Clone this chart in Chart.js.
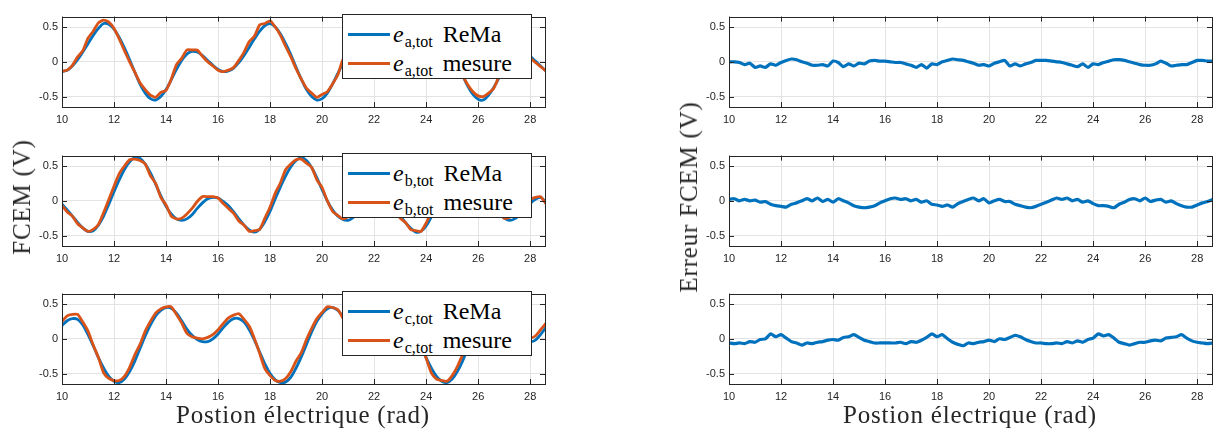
<!DOCTYPE html>
<html lang="fr">
<head>
<meta charset="UTF-8">
<title>FCEM ReMa / mesure</title>
<style>
    body { margin: 0; background: #fff; }
    #page { position: relative; width: 1214px; height: 437px; overflow: hidden; background: #fff; }
    canvas { position: absolute; }
    .lbl { position: absolute; font-family: "Liberation Serif", serif; font-size: 25px; color: #262626;
           white-space: nowrap; letter-spacing: 0.8px; }
    .ylab { transform: translate(-50%, -50%) rotate(-90deg); }
    .xlab { transform: translate(-50%, -50%); }
    .legend { position: absolute; width: 188px; height: 63px; border: 1px solid #262626; background: #fff;
              font-family: "Liberation Serif", serif; color: #000; z-index: 2; }
    .legend .row { position: absolute; left: 0; height: 30px; width: 100%; }
    .legend .sw { position: absolute; left: 5px; top: 14px; width: 42px; height: 3px; }
    .legend .txt { position: absolute; left: 50px; top: 0; font-size: 24px; line-height: 30px; white-space: nowrap; }
    .legend sub { font-size: 16px; font-style: normal; vertical-align: -5px; line-height: 0; margin-right: 10px; margin-left: 1px; }
</style>
</head>
<body>
<div id="page">
    <canvas id="cA" width="525" height="123" style="left:22px;top:6px"></canvas>
    <canvas id="cB" width="525" height="123" style="left:22px;top:145px"></canvas>
    <canvas id="cC" width="525" height="123" style="left:22px;top:283px"></canvas>
    <canvas id="eA" width="525" height="123" style="left:689px;top:6px"></canvas>
    <canvas id="eB" width="525" height="123" style="left:689px;top:145px"></canvas>
    <canvas id="eC" width="525" height="123" style="left:689px;top:283px"></canvas>

    <div class="legend" style="left:342px;top:14px">
        <div class="row" style="top:4px"><span class="sw" style="background:#0072BD"></span><span class="txt"><i>e</i><sub>a,tot</sub>ReMa</span></div>
        <div class="row" style="top:33px"><span class="sw" style="background:#D95319"></span><span class="txt"><i>e</i><sub>a,tot</sub>mesure</span></div>
    </div>
    <div class="legend" style="left:342px;top:153px">
        <div class="row" style="top:4px"><span class="sw" style="background:#0072BD"></span><span class="txt"><i>e</i><sub>b,tot</sub>ReMa</span></div>
        <div class="row" style="top:33px"><span class="sw" style="background:#D95319"></span><span class="txt"><i>e</i><sub>b,tot</sub>mesure</span></div>
    </div>
    <div class="legend" style="left:342px;top:291px">
        <div class="row" style="top:4px"><span class="sw" style="background:#0072BD"></span><span class="txt"><i>e</i><sub>c,tot</sub>ReMa</span></div>
        <div class="row" style="top:33px"><span class="sw" style="background:#D95319"></span><span class="txt"><i>e</i><sub>c,tot</sub>mesure</span></div>
    </div>

    <div class="lbl ylab" style="left:22px;top:197px">FCEM (V)</div>
    <div class="lbl ylab" style="left:689px;top:197px">Erreur FCEM (V)</div>
    <div class="lbl xlab" style="left:303px;top:415px">Postion électrique (rad)</div>
    <div class="lbl xlab" style="left:970px;top:415px">Postion électrique (rad)</div>
</div>

<script src="https://cdn.jsdelivr.net/npm/chart.js"></script>
<script>
// electrical position (rad), 0.2 step
var positions = [
    10.0, 10.2, 10.4, 10.6, 10.8, 11.0, 11.2, 11.4, 11.6, 11.8,
    12.0, 12.2, 12.4, 12.6, 12.8, 13.0, 13.2, 13.4, 13.6, 13.8,
    14.0, 14.2, 14.4, 14.6, 14.8, 15.0, 15.2, 15.4, 15.6, 15.8,
    16.0, 16.2, 16.4, 16.6, 16.8, 17.0, 17.2, 17.4, 17.6, 17.8,
    18.0, 18.2, 18.4, 18.6, 18.8, 19.0, 19.2, 19.4, 19.6, 19.8,
    20.0, 20.2, 20.4, 20.6, 20.8, 21.0, 21.2, 21.4, 21.6, 21.8,
    22.0, 22.2, 22.4, 22.6, 22.8, 23.0, 23.2, 23.4, 23.6, 23.8,
    24.0, 24.2, 24.4, 24.6, 24.8, 25.0, 25.2, 25.4, 25.6, 25.8,
    26.0, 26.2, 26.4, 26.6, 26.8, 27.0, 27.2, 27.4, 27.6, 27.8,
    28.0, 28.2, 28.4, 28.6
];

var remaA = [
    -0.14, -0.12, -0.06, 0.03, 0.14, 0.26, 0.38, 0.48, 0.55, 0.54,
    0.47, 0.35, 0.20, 0.03, -0.15, -0.32, -0.45, -0.53, -0.55, -0.50,
    -0.40, -0.26, -0.11, 0.02, 0.11, 0.15, 0.14, 0.09, 0.02, -0.05,
    -0.11, -0.14, -0.13, -0.09, -0.01, 0.09, 0.21, 0.33, 0.44, 0.52,
    0.55, 0.50, 0.40, 0.26, 0.10, -0.08, -0.25, -0.40, -0.50, -0.55,
    -0.53, -0.45, -0.32, -0.17, -0.03, 0.08, 0.14, 0.15, 0.11, 0.05,
    -0.02, -0.08, -0.13, -0.14, -0.11, -0.04, 0.05, 0.16, 0.28, 0.40,
    0.50, 0.55, 0.53, 0.45, 0.32, 0.16, -0.01, -0.19, -0.35, -0.47,
    -0.54, -0.55, -0.48, -0.37, -0.23, -0.08, 0.04, 0.12, 0.15, 0.13,
    0.08, 0.01, -0.06, -0.13
];
var mesureA = [
    -0.14, -0.12, -0.05, 0.07, 0.16, 0.34, 0.44, 0.56, 0.60, 0.57,
    0.48, 0.33, 0.16, 0.00, -0.15, -0.30, -0.40, -0.48, -0.51, -0.44,
    -0.41, -0.25, -0.04, 0.05, 0.17, 0.17, 0.17, 0.08, 0.00, -0.06,
    -0.12, -0.14, -0.12, -0.08, 0.02, 0.14, 0.29, 0.37, 0.53, 0.55,
    0.59, 0.50, 0.38, 0.22, 0.07, -0.10, -0.25, -0.38, -0.45, -0.51,
    -0.47, -0.43, -0.32, -0.19, 0.03, 0.11, 0.18, 0.18, 0.12, 0.03,
    -0.04, -0.10, -0.14, -0.14, -0.10, -0.01, 0.10, 0.23, 0.31, 0.48,
    0.53, 0.59, 0.54, 0.44, 0.29, 0.13, -0.03, -0.19, -0.33, -0.43,
    -0.49, -0.50, -0.45, -0.38, -0.21, -0.02, 0.09, 0.16, 0.19, 0.14,
    0.06, -0.01, -0.07, -0.13
];
var erreurA = [
    0.00, 0.00, -0.01, -0.04, -0.02, -0.08, -0.06, -0.08, -0.03, -0.05,
    -0.01, 0.02, 0.04, 0.03, 0.00, -0.02, -0.05, -0.05, -0.04, -0.06,
    0.01, -0.01, -0.07, -0.03, -0.06, -0.02, -0.03, 0.01, 0.02, 0.01,
    0.01, 0.00, -0.01, -0.01, -0.03, -0.05, -0.08, -0.04, -0.09, -0.03,
    -0.04, 0.00, 0.02, 0.04, 0.03, 0.02, 0.00, -0.02, -0.05, -0.04,
    -0.06, -0.02, 0.00, 0.02, -0.06, -0.03, -0.06, -0.03, -0.01, 0.02,
    0.02, 0.02, 0.01, 0.00, -0.01, -0.03, -0.05, -0.07, -0.03, -0.08,
    -0.03, -0.04, -0.01, 0.01, 0.03, 0.03, 0.02, 0.00, -0.02, -0.04,
    -0.05, -0.05, -0.03, 0.01, -0.02, -0.06, -0.05, -0.04, -0.04, -0.01,
    0.02, 0.02, 0.01, 0.01
];

var remaB = [
    -0.05, -0.13, -0.22, -0.31, -0.39, -0.44, -0.43, -0.35, -0.22, -0.05,
    0.13, 0.30, 0.45, 0.56, 0.62, 0.61, 0.53, 0.40, 0.24, 0.07,
    -0.08, -0.19, -0.26, -0.28, -0.26, -0.20, -0.11, -0.03, 0.03, 0.05,
    0.04, -0.01, -0.07, -0.16, -0.26, -0.35, -0.42, -0.45, -0.41, -0.30,
    -0.15, 0.03, 0.20, 0.36, 0.49, 0.58, 0.62, 0.58, 0.48, 0.33,
    0.16, 0.00, -0.13, -0.22, -0.27, -0.28, -0.24, -0.16, -0.07, 0.00,
    0.04, 0.05, 0.02, -0.04, -0.12, -0.21, -0.31, -0.39, -0.45, -0.44,
    -0.36, -0.23, -0.06, 0.12, 0.29, 0.44, 0.56, 0.62, 0.61, 0.54,
    0.41, 0.25, 0.08, -0.07, -0.18, -0.25, -0.28, -0.26, -0.20, -0.12,
    -0.04, 0.02, 0.05, -0.02
];
var mesureB = [
    -0.07, -0.16, -0.22, -0.33, -0.39, -0.44, -0.41, -0.34, -0.17, 0.02,
    0.21, 0.39, 0.50, 0.59, 0.60, 0.58, 0.53, 0.36, 0.25, 0.05,
    -0.06, -0.22, -0.26, -0.25, -0.19, -0.11, -0.01, 0.06, 0.06, 0.06,
    0.04, -0.04, -0.11, -0.18, -0.29, -0.35, -0.44, -0.43, -0.41, -0.25,
    -0.09, 0.11, 0.26, 0.45, 0.53, 0.59, 0.60, 0.54, 0.48, 0.30,
    0.19, 0.00, -0.15, -0.21, -0.26, -0.23, -0.17, -0.07, 0.03, 0.05,
    0.06, 0.06, 0.01, -0.08, -0.14, -0.25, -0.31, -0.41, -0.43, -0.44,
    -0.32, -0.16, 0.01, 0.20, 0.39, 0.49, 0.58, 0.60, 0.58, 0.54,
    0.37, 0.26, 0.07, -0.09, -0.16, -0.25, -0.24, -0.19, -0.11, -0.03,
    0.02, 0.05, 0.06, -0.04
];
var erreurB = [
    0.02, 0.03, 0.00, 0.02, 0.00, 0.01, -0.02, -0.01, -0.05, -0.07,
    -0.08, -0.09, -0.05, -0.03, 0.00, 0.03, 0.00, 0.04, -0.01, 0.02,
    -0.02, 0.03, 0.00, -0.03, -0.07, -0.09, -0.10, -0.09, -0.07, -0.03,
    0.00, 0.03, 0.04, 0.02, 0.03, 0.00, 0.02, -0.02, 0.00, -0.05,
    -0.06, -0.08, -0.06, -0.09, -0.04, -0.01, 0.02, 0.04, 0.00, 0.03,
    -0.03, 0.00, 0.02, -0.01, -0.01, -0.05, -0.07, -0.09, -0.10, -0.08,
    -0.05, -0.02, 0.01, 0.04, 0.02, 0.04, 0.00, 0.02, -0.02, 0.00,
    -0.04, -0.07, -0.07, -0.08, -0.10, -0.05, -0.02, 0.02, 0.03, 0.00,
    0.04, -0.01, 0.01, 0.02, -0.02, 0.00, -0.04, -0.07, -0.09, -0.09,
    -0.06, -0.03, -0.01, 0.02
];

var remaC = [
    0.19, 0.26, 0.29, 0.28, 0.20, 0.06, -0.10, -0.27, -0.42, -0.54,
    -0.61, -0.63, -0.58, -0.47, -0.32, -0.14, 0.04, 0.20, 0.33, 0.41,
    0.45, 0.44, 0.37, 0.26, 0.14, 0.05, -0.01, -0.04, -0.04, 0.00,
    0.07, 0.16, 0.24, 0.29, 0.29, 0.24, 0.13, -0.02, -0.19, -0.36,
    -0.50, -0.59, -0.63, -0.62, -0.55, -0.42, -0.26, -0.08, 0.10, 0.25,
    0.36, 0.43, 0.45, 0.41, 0.32, 0.21, 0.10, 0.02, -0.03, -0.04,
    -0.02, 0.04, 0.12, 0.21, 0.27, 0.29, 0.27, 0.19, 0.06, -0.10,
    -0.27, -0.42, -0.54, -0.61, -0.63, -0.58, -0.47, -0.32, -0.14, 0.04,
    0.20, 0.33, 0.41, 0.45, 0.44, 0.37, 0.26, 0.14, 0.05, -0.01,
    -0.04, -0.02, 0.06, 0.16
];
var mesureC = [
    0.25, 0.33, 0.35, 0.35, 0.24, 0.11, -0.09, -0.27, -0.49, -0.57,
    -0.60, -0.60, -0.54, -0.41, -0.23, -0.08, 0.11, 0.25, 0.37, 0.43,
    0.46, 0.46, 0.35, 0.23, 0.08, 0.03, 0.01, 0.00, 0.02, 0.06,
    0.13, 0.22, 0.30, 0.34, 0.36, 0.28, 0.18, 0.00, -0.21, -0.43,
    -0.53, -0.60, -0.61, -0.57, -0.47, -0.32, -0.20, -0.01, 0.15, 0.29,
    0.38, 0.46, 0.45, 0.42, 0.30, 0.16, 0.07, 0.03, 0.01, 0.02,
    0.04, 0.11, 0.19, 0.27, 0.34, 0.33, 0.33, 0.22, 0.11, -0.09,
    -0.28, -0.49, -0.58, -0.60, -0.61, -0.53, -0.40, -0.23, -0.07, 0.09,
    0.25, 0.36, 0.43, 0.47, 0.43, 0.35, 0.23, 0.08, 0.04, 0.02,
    0.01, 0.04, 0.13, 0.22
];
var erreurC = [
    -0.06, -0.07, -0.06, -0.07, -0.04, -0.05, -0.01, 0.00, 0.07, 0.03,
    0.06, 0.01, -0.04, -0.06, -0.09, -0.06, -0.07, -0.05, -0.04, -0.02,
    -0.01, -0.02, 0.02, 0.03, 0.06, 0.02, -0.02, -0.04, -0.06, -0.06,
    -0.06, -0.06, -0.06, -0.05, -0.07, -0.04, -0.05, -0.02, 0.02, 0.07,
    0.03, 0.06, 0.00, -0.05, -0.08, -0.10, -0.06, -0.07, -0.05, -0.04,
    -0.02, -0.04, 0.00, -0.01, 0.02, 0.05, 0.03, -0.01, -0.04, -0.06,
    -0.06, -0.07, -0.07, -0.06, -0.07, -0.04, -0.06, -0.03, -0.05, -0.01,
    0.01, 0.07, 0.04, 0.06, 0.01, -0.05, -0.07, -0.09, -0.07, -0.05,
    -0.05, -0.03, -0.02, -0.03, 0.01, 0.02, 0.03, 0.06, 0.01, -0.03,
    -0.05, -0.06, -0.07, -0.06
];

var xTicks = [10, 12, 14, 16, 18, 20, 22, 24, 26, 28];
var yTicks = [-0.5, 0, 0.5];
var yTickLabels = ['-0.5', '0', '0.5'];

var BLUE = '#0072BD', ORANGE = '#D95319', AXIS = '#262626';

function pts(ys) {
    return ys.map(function (y, i) { return { x: positions[i], y: y }; });
}

// MATLAB-like box with inward ticks on all four sides
var boxPlugin = {
    id: 'box',
    afterDraw: function (chart) {
        var c = chart.ctx, a = chart.chartArea, sx = chart.scales.x, sy = chart.scales.y;
        c.save();
        c.strokeStyle = AXIS;
        c.lineWidth = 1;
        c.beginPath();
        xTicks.forEach(function (v) {
            var px = Math.round(sx.getPixelForValue(v)) + 0.5;
            c.moveTo(px, a.bottom); c.lineTo(px, a.bottom - 5);
            c.moveTo(px, a.top); c.lineTo(px, a.top + 5);
        });
        yTicks.forEach(function (v) {
            var py = Math.round(sy.getPixelForValue(v)) + 0.5;
            c.moveTo(a.left, py); c.lineTo(a.left + 5, py);
            c.moveTo(a.right, py); c.lineTo(a.right - 5, py);
        });
        c.stroke();
        c.strokeRect(Math.round(a.left) + 0.5, Math.round(a.top) + 0.5,
                     Math.round(a.right - a.left), Math.round(a.bottom - a.top));
        c.restore();
    }
};

function makeChart(id, datasets) {
    return new Chart(document.getElementById(id), {
        type: 'line',
        data: { datasets: datasets },
        options: {
            responsive: false,
            animation: false,
            devicePixelRatio: 1,
            layout: { padding: { top: 2, right: 2, left: 0, bottom: 0 } },
            plugins: { legend: { display: false }, tooltip: { enabled: false } },
            elements: { point: { radius: 0 } },
            scales: {
                x: {
                    type: 'linear', min: 10, max: 28.57,
                    afterBuildTicks: function (s) { s.ticks = xTicks.map(function (v) { return { value: v }; }); },
                    afterFit: function (s) { s.height = 22; },
                    grid: { color: '#e3e3e3', drawTicks: false },
                    border: { display: false },
                    ticks: { padding: 6, color: AXIS, font: { family: 'Liberation Sans', size: 11 }, maxRotation: 0 }
                },
                y: {
                    type: 'linear', min: -0.65, max: 0.65,
                    afterBuildTicks: function (s) { s.ticks = yTicks.map(function (v) { return { value: v }; }); },
                    afterFit: function (s) { s.width = 40; },
                    grid: { color: '#e3e3e3', drawTicks: false },
                    border: { display: false },
                    ticks: {
                        padding: 4, color: AXIS, font: { family: 'Liberation Sans', size: 11 },
                        callback: function (v) { return yTickLabels[yTicks.indexOf(v)]; }
                    }
                }
            }
        },
        plugins: [boxPlugin]
    });
}

function pair(reMa, mesure) {
    return [
        { label: 'ReMa', data: pts(reMa), borderColor: BLUE, borderWidth: 2.8, tension: 0.35, order: 2 },
        { label: 'mesure', data: pts(mesure), borderColor: ORANGE, borderWidth: 2.8, tension: 0.2, order: 1 }
    ];
}
function single(err) {
    return [{ label: 'Erreur', data: pts(err), borderColor: BLUE, borderWidth: 3.2, tension: 0.2 }];
}

makeChart('cA', pair(remaA, mesureA));
makeChart('cB', pair(remaB, mesureB));
makeChart('cC', pair(remaC, mesureC));
makeChart('eA', single(erreurA));
makeChart('eB', single(erreurB));
makeChart('eC', single(erreurC));
</script>
</body>
</html>
